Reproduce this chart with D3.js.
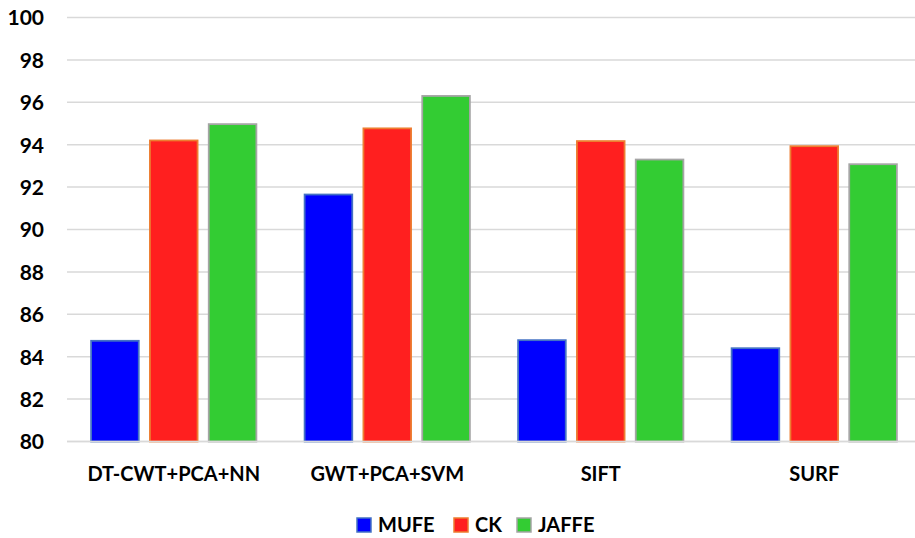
<!DOCTYPE html>
<html>
<head>
<meta charset="utf-8">
<script src="https://cdn.jsdelivr.net/npm/d3@7"></script>
<style>
  html, body { margin: 0; padding: 0; background: #fff; }
  svg { display: block; }
  text { font-family: Lato, "Open Sans", sans-serif; font-weight: 700; fill: #000; }
</style>
</head>
<body>
<svg id="chart" width="915" height="538"></svg>
<script>
const categories = ["DT-CWT+PCA+NN", "GWT+PCA+SVM", "SIFT", "SURF"];
const seriesNames = ["MUFE", "CK", "JAFFE"];
const mufe = [84.75, 91.65, 84.78, 84.4];
const ck = [94.2, 94.77, 94.17, 93.93];
const jaffe = [94.97, 96.3, 93.3, 93.08];
const yTicks = [80, 82, 84, 86, 88, 90, 92, 94, 96, 98, 100];

const fills = { MUFE: "#0000FF", CK: "#FF1F1F", JAFFE: "#33CC33" };
const strokes = { MUFE: "#4472C4", CK: "#ED7D31", JAFFE: "#A5A5A5" };
const valuesBySeries = { MUFE: mufe, CK: ck, JAFFE: jaffe };

const svg = d3.select("#chart");
const plotLeft = 67, plotRight = 921, plotTop = 17.5, plotBottom = 441.5;

const y = d3.scaleLinear().domain([80, 100]).range([plotBottom, plotTop]);
const x0 = d3.scaleBand().domain(categories).range([plotLeft, plotRight]).paddingInner(0).paddingOuter(0);
const x1 = d3.scaleBand().domain(seriesNames).range([0, x0.bandwidth()]).paddingInner(0.19).paddingOuter(0.41);

// gridlines
svg.append("g").selectAll("line").data(yTicks).join("line")
  .attr("x1", plotLeft).attr("x2", plotRight)
  .attr("y1", d => y(d)).attr("y2", d => y(d))
  .attr("stroke", "#D9D9D9").attr("stroke-width", 1.5);

// y axis labels
const yAxis = d3.axisLeft(y).tickValues(yTicks).tickSize(0).tickPadding(0);
const yg = svg.append("g").attr("transform", `translate(44,0)`).call(yAxis);
yg.select(".domain").remove();
yg.selectAll("text").attr("font-size", 21).attr("dy", "0.35em")
  .style("font-family", "Lato, sans-serif").style("font-weight", 700).attr("fill", "#000");

// bars
const data = [];
categories.forEach((c, i) => seriesNames.forEach(s => data.push({ c, s, v: valuesBySeries[s][i] })));
svg.append("g").selectAll("rect").data(data).join("rect")
  .attr("x", d => x0(d.c) + x1(d.s))
  .attr("width", x1.bandwidth())
  .attr("y", d => y(d.v))
  .attr("height", d => y(80) - y(d.v))
  .attr("fill", d => fills[d.s])
  .attr("stroke", d => strokes[d.s])
  .attr("stroke-width", 1.8);

// baseline axis line
svg.append("line").attr("x1", plotLeft).attr("x2", plotRight).attr("y1", y(80)).attr("y2", y(80))
  .attr("stroke", "#D9D9D9").attr("stroke-width", 1.5);

// x axis labels
const xAxis = d3.axisBottom(x0).tickSize(0).tickPadding(0);
const xg = svg.append("g").attr("transform", `translate(0,${y(80)})`).call(xAxis);
xg.select(".domain").remove();
xg.selectAll("text").attr("y", 0).attr("dy", 0).attr("transform", "translate(0,39.5)")
  .attr("font-size", 20).style("font-family", "Lato, sans-serif").style("font-weight", 700).attr("fill", "#000");

// legend
const legendX = [357, 454, 517];
const lg = svg.append("g").selectAll("g").data(seriesNames).join("g")
  .attr("transform", (d, i) => `translate(${legendX[i]},518)`);
lg.append("rect").attr("width", 14).attr("height", 14)
  .attr("fill", d => fills[d]).attr("stroke", d => strokes[d]).attr("stroke-width", 1.5);
lg.append("text").attr("x", 21).attr("y", 14).attr("font-size", 20).text(d => d);
</script>
</body>
</html>
